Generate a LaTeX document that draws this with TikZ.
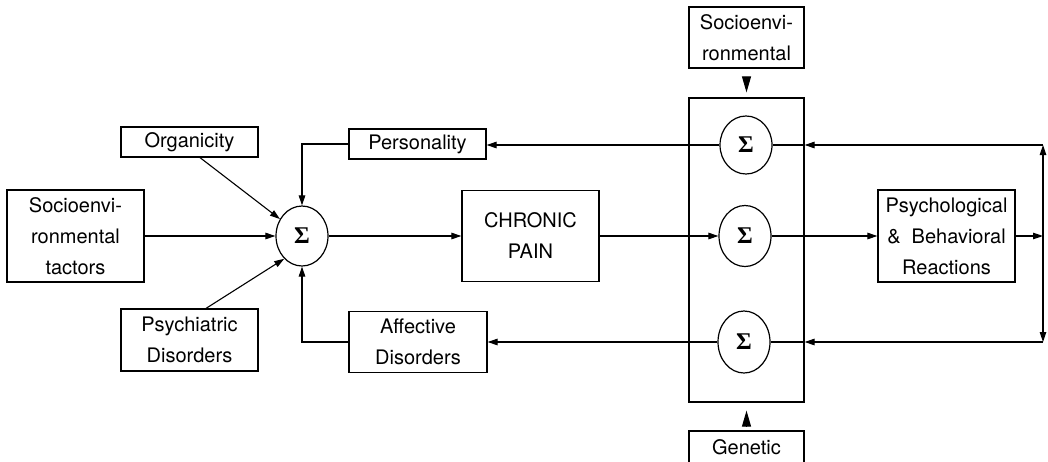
\documentclass[tikz,border=0pt]{standalone}
\usepackage{fontspec}
\setmainfont{TeX Gyre Heros}
\newfontfamily\sigfont{Liberation Serif}
\usetikzlibrary{arrows.meta,shapes.geometric}
\begin{document}
\begin{tikzpicture}[x=1pt,y=-1pt,
  box/.style={draw,line width=1.2pt,inner sep=0pt,align=center,
    font=\fontsize{20}{31}\selectfont},
  sig/.style={draw,ellipse,line width=1.2pt,inner sep=0pt,
    minimum width=52pt,minimum height=60pt,font=\sigfont\bfseries\fontsize{24}{26}\selectfont},
  conn/.style={line width=1.1pt},
  arr/.style={conn,-{Triangle[length=10pt,width=6.5pt]}},
  arrboth/.style={conn,{Triangle[length=10pt,width=6.5pt]}-{Triangle[length=10pt,width=6.5pt]}},
  bigtip/.style={conn,-{Triangle[length=16pt,width=9pt]}}]
\clip (0,0) rectangle (1048,461);
\fill[white] (0,0) rectangle (1048,461);
% boxes
\node[box,minimum width=137pt,minimum height=30pt] (org) at (189.5,142) {Organicity};
\node[box,minimum width=137pt,minimum height=30pt] (pers) at (417.5,144) {Personality};
\node[box,minimum width=137pt,minimum height=92pt] (lsoc) at (75.5,236) {Socioenvi-\\ronmental\\tactors};
\node[box,minimum width=137pt,minimum height=62pt] (psyd) at (189.5,340) {Psychiatric\\Disorders};
\node[box,minimum width=138pt,minimum height=61pt] (aff) at (418,342) {Affective\\Disorders};
\node[box,minimum width=137pt,minimum height=91pt] (chr) at (530.5,236) {CHRONIC\\PAIN};
\node[box,minimum width=137pt,minimum height=92pt] (psy) at (946.5,236) {Psychological\\\&\ \ Behavioral\\Reactions};
\node[box,minimum width=115pt,minimum height=304pt] (big) at (746.5,250) {};
\node[box,minimum width=115pt,minimum height=61pt] (tsoc) at (746.5,37.5) {Socioenvi-\\ronmental};
\node[box,minimum width=115pt,minimum height=32pt] (gen) at (746.5,447) {Genetic};
% summing nodes
\node[sig] (s) at (302,236) {Σ};
\node[sig,minimum height=58pt] (s1) at (746,145) {Σ};
\node[sig,minimum height=61pt] (s2) at (745,236) {Σ};
\node[sig,minimum height=62pt] (s3) at (744,342) {Σ};
\coordinate (rt) at (1043,145);
\coordinate (rb) at (1043,342);
% connectors into left sigma
\draw[arr] (lsoc.east) -- (s.west);
\draw[arr] ([xshift=10.5pt]org.south) -- (s);
\draw[arr] ([xshift=16.5pt]psyd.north) -- (s.232);
\draw[arr] (pers.west) -| (s.north);
\draw[arr] (aff.west) -| (s.south);
% main chain
\draw[arr] (s.east) -- (chr.west);
\draw[arr] (chr.east) -- (s2.west);
\draw[arr] (s2.east) -- (psy.west);
\draw[arr] (psy.east) -- (psy.east -| rt);
\draw[arrboth] (rt) -- (rb);
% feedback
\draw[arr] (rt) -- (big.east |- rt);
\draw[conn] (big.east |- rt) -- (s1.east);
\draw[arr] (s1.west) -- (s1.west -| pers.east);
\draw[arr] (rb) -- (big.east |- rb);
\draw[conn] (big.east |- rb) -- (s3.east);
\draw[arr] (s3.west) -- (s3.west -| aff.east);
% external inputs to the summing block
\draw[bigtip] ([yshift=-9pt]tsoc.south) -- ([yshift=5pt]big.north);
\draw[bigtip] ([yshift=4pt]gen.north) -- ([yshift=-8pt]big.south);
\end{tikzpicture}
\end{document}
